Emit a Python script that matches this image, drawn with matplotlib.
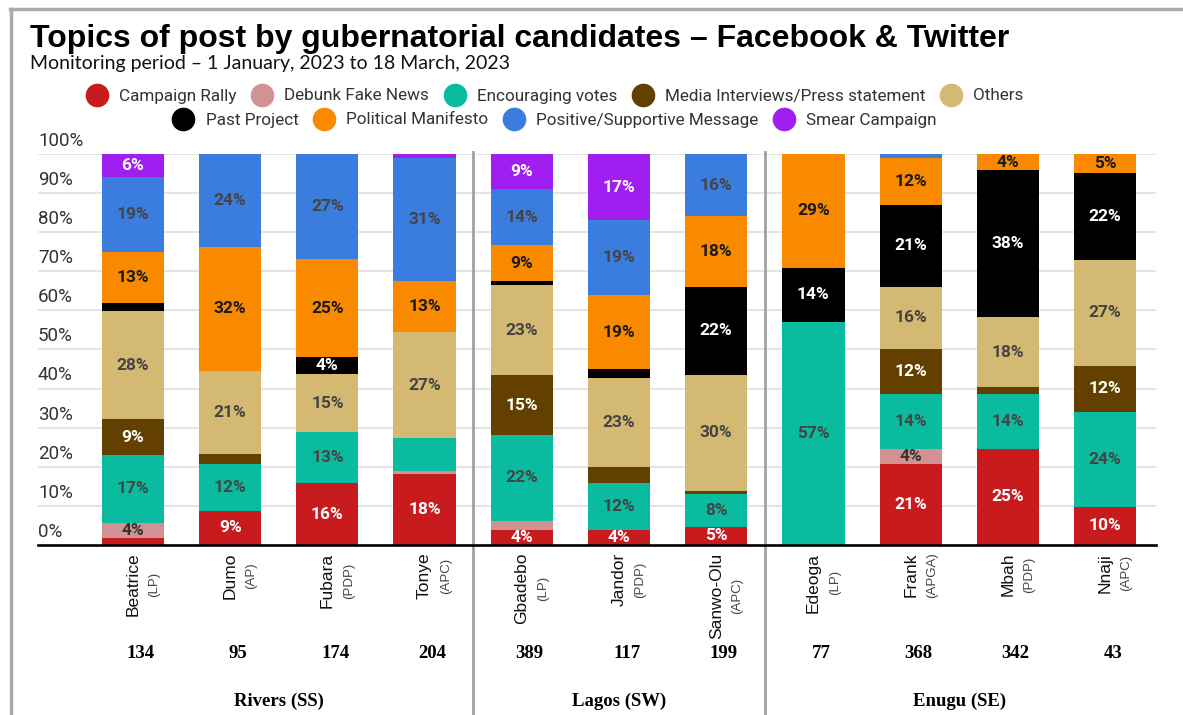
import matplotlib
matplotlib.use("Agg")
import matplotlib.pyplot as plt
from matplotlib.lines import Line2D
import numpy as np

# candidates, their parties and number of posts monitored
candidates = ["Beatrice", "Dumo", "Fubara", "Tonye", "Gbadebo", "Jandor",
              "Sanwo-Olu", "Edeoga", "Frank", "Mbah", "Nnaji"]
parties = ["(LP)", "(AP)", "(PDP)", "(APC)", "(LP)", "(PDP)", "(APC)",
           "(LP)", "(APGA)", "(PDP)", "(APC)"]
post_counts = [134, 95, 174, 204, 389, 117, 199, 77, 368, 342, 43]

states = ["Rivers (SS)", "Lagos (SW)", "Enugu (SE)"]
state_sizes = [4, 3, 4]

# share of posts (%) per topic, stacked bottom to top
campaign_rally = [1.7, 8.7, 15.8, 18.1, 3.8, 3.8, 4.7, 0, 20.6, 24.6, 9.8]
debunk_fake_news = [4.0, 0, 0, 0.8, 2.3, 0, 0, 0, 3.9, 0, 0]
encouraging_votes = [17.3, 12.0, 13.0, 8.4, 22.1, 12.0, 8.3, 57.1, 14.0, 13.9, 24.1]
media_interviews = [9.1, 2.7, 0, 0, 15.2, 4.1, 0.8, 0, 11.6, 1.8, 12.0]
others = [27.8, 21.1, 14.9, 27.1, 23.1, 22.9, 29.8, 0, 16.0, 18.0, 27.0]
past_project = [1.9, 0, 4.3, 0, 0.9, 2.2, 22.3, 13.8, 20.8, 37.6, 22.2]
political_manifesto = [13.2, 31.8, 25.1, 13.1, 9.2, 18.9, 18.2, 29.1, 12.0, 4.1, 4.9]
positive_message = [19.0, 23.7, 26.9, 31.4, 14.4, 19.2, 15.9, 0, 1.1, 0, 0]
smear_campaign = [6.0, 0, 0, 1.1, 9.0, 16.9, 0, 0, 0, 0, 0]

topics = ["Campaign Rally", "Debunk Fake News", "Encouraging votes",
          "Media Interviews/Press statement", "Others", "Past Project",
          "Political Manifesto", "Positive/Supportive Message", "Smear Campaign"]
series = [campaign_rally, debunk_fake_news, encouraging_votes, media_interviews,
          others, past_project, political_manifesto, positive_message,
          smear_campaign]
colors = ["#c81b1e", "#d29294", "#0bbb9f", "#634000", "#d3b972", "#000000",
          "#f98a00", "#3a7ddf", "#a01eef"]
label_colors = ["white", "#333333", "#444444", "white", "#444444", "white",
                "#1a1a1a", "#444444", "white"]

hidden_labels = {("Tonye", "Encouraging votes"),
                 ("Jandor", "Media Interviews/Press statement")}

W, H = 1183, 715
fig = plt.figure(figsize=(W / 100, H / 100), dpi=100)
ax = fig.add_axes([38 / W, (H - 545) / H, 1118 / W, 391 / H])

x = np.arange(len(candidates))
bottom = np.zeros(len(candidates))
for name, vals, col, lcol in zip(topics, series, colors, label_colors):
    vals = np.array(vals, dtype=float)
    ax.bar(x, vals, width=0.64, bottom=bottom, color=col, zorder=2)
    for i, v in enumerate(vals):
        if v >= 3.5 and (candidates[i], name) not in hidden_labels:
            ax.text(x[i], bottom[i] + v / 2, f"{v:.0f}%", ha="center",
                    va="center", color=lcol, fontsize=12.5, fontweight="bold",
                    family="Roboto", zorder=3)
    bottom += vals

ax.set_xlim(-0.977, 10.524)
ax.set_ylim(0, 100)
for s in ["top", "right", "left"]:
    ax.spines[s].set_visible(False)
ax.spines["bottom"].set_linewidth(1.9)
ax.spines["bottom"].set_zorder(4)
ax.set_xticks([])
ax.set_yticks([])

# gridlines and percent labels sitting above each line
for g in range(0, 101, 10):
    if g > 0:
        ax.axhline(g, color="#dddddd", lw=1.1, zorder=1)
    ax.annotate(f"{g}%", xy=(0, g), xycoords=("axes fraction", "data"),
                xytext=(0, 3), textcoords="offset points", ha="left",
                va="bottom", fontsize=13.5, color="#333333", family="Roboto")

# state separators running down to the bottom of the figure
edges = np.cumsum(state_sizes)[:-1] - 0.5
for e in edges:
    ax.plot([e, e], [1.005, -0.435], transform=ax.get_xaxis_transform(),
            color="#a0a0a0", lw=2, clip_on=False, zorder=1)

# candidate names with party underneath (rotated)
fig.canvas.draw()
renderer = fig.canvas.get_renderer()
for i, (cand, party) in enumerate(zip(candidates, parties)):
    t = ax.text(x[i], -0.02, cand, transform=ax.get_xaxis_transform(),
                rotation=90, ha="center", va="top", fontsize=12.5,
                family="Liberation Sans", color="#111111")
    bb = t.get_window_extent(renderer)
    cy = ax.transAxes.inverted().transform((0, (bb.y0 + bb.y1) / 2))[1]
    ax.text(x[i] + 0.22, cy, party, transform=ax.get_xaxis_transform(),
            rotation=90, ha="center", va="center", fontsize=9.5,
            family="Liberation Sans", color="#444444")
    ax.text(x[i] + 0.08, -0.277, str(post_counts[i]),
            transform=ax.get_xaxis_transform(), ha="center", va="center",
            fontsize=13.5, fontweight="bold", family="Liberation Serif")

start = 0
for st, n in zip(states, state_sizes):
    ax.text(start + (n - 1) / 2, -0.401, st, transform=ax.get_xaxis_transform(),
            ha="center", va="center", fontsize=13.5, fontweight="bold",
            family="Liberation Serif")
    start += n

# title block
fig.text(30 / W, 1 - 47 / H,
         "Topics of post by gubernatorial candidates \u2013 Facebook & Twitter",
         fontsize=23, fontweight="bold", family="Liberation Sans", va="baseline")
fig.text(30 / W, 1 - 69 / H,
         "Monitoring period \u2013 1 January, 2023 to 18 March, 2023",
         fontsize=14, family="Lato", va="baseline", color="#111111")

# legend in two rows
def legend_row(idx, y):
    handles = [Line2D([], [], marker="o", ls="", ms=16, color=colors[k])
               for k in idx]
    leg = fig.legend(handles, [topics[k] for k in idx], loc="center",
                     bbox_to_anchor=(555 / W, 1 - y / H), ncol=len(idx),
                     frameon=False, handletextpad=0.7, columnspacing=0.9,
                     handlelength=1.2, prop={"family": "Roboto", "size": 12.3})
    for t in leg.get_texts():
        t.set_color("#333333")
    return leg

legend_row([0, 1, 2, 3, 4], 96)
legend_row([5, 6, 7, 8], 120)

# frame lines along the top and left edge
fig.add_artist(Line2D([10 / W, 1], [1 - 9 / H, 1 - 9 / H], color="#aaaaaa", lw=2.5))
fig.add_artist(Line2D([11 / W, 11 / W], [1 - 9 / H, 0], color="#aaaaaa", lw=2.5))

fig.savefig("out.png", dpi=100)
